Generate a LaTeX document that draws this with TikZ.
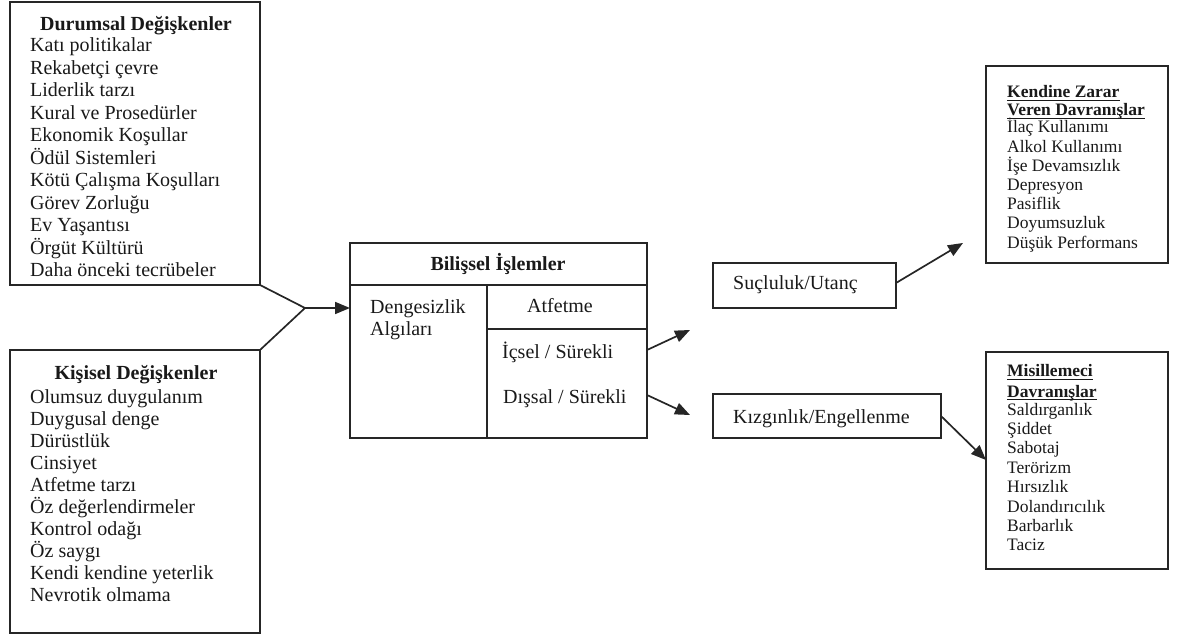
\documentclass[tikz,border=0pt]{standalone}
\usepackage{fontspec}
\setmainfont{Liberation Serif}
\usetikzlibrary{arrows.meta}
\begin{document}
\begin{tikzpicture}[x=1pt,y=-1pt,
  box/.style={draw=black!85, line width=1.7pt, inner sep=0pt, outer sep=0pt},
  big/.style={font=\fontsize{20}{22.5}\selectfont, inner sep=0pt, text=black!90},
  small/.style={font=\fontsize{17.5}{19}\selectfont, inner sep=0pt, text=black!90},
  smallbold/.style={font=\fontsize{17.5}{19}\selectfont\bfseries, inner sep=0pt, text=black!90},
  ul/.style={line width=1.1pt, draw=black!90},
  conn/.style={line width=1.7pt, draw=black!85},
  arr/.style={conn, -{Triangle[length=15pt,width=12pt]}}]
\useasboundingbox (0,0) rectangle (1181,636);

% left boxes
\node[box, minimum width=250pt, minimum height=283pt] (dur) at (135,143.5) {};
\node[big, font=\fontsize{20}{22.5}\selectfont\bfseries, anchor=base] (durt) at (136,31) {Durumsal Değişkenler};
\foreach \t [count=\i] in {Katı politikalar, Rekabetçi çevre, Liderlik tarzı, Kural ve Prosedürler, Ekonomik Koşullar, Ödül Sistemleri, Kötü Çalışma Koşulları, Görev Zorluğu, Ev Yaşantısı, Örgüt Kültürü, Daha önceki tecrübeler}
  \node[big, anchor=base west] (d\i) at (30,{52+(\i-1)*22.5}) {\t};

\node[box, minimum width=250pt, minimum height=283pt] (kis) at (135,491.5) {};
\node[big, font=\fontsize{20}{22.5}\selectfont\bfseries, anchor=base] (kist) at (136,379) {Kişisel Değişkenler};
\foreach \t [count=\i] in {Olumsuz duygulanım, Duygusal denge, Dürüstlük, Cinsiyet, Atfetme tarzı, Öz değerlendirmeler, Kontrol odağı, Öz saygı, Kendi kendine yeterlik, Nevrotik olmama}
  \node[big, anchor=base west] (k\i) at (30,{403+(\i-1)*22}) {\t};

% middle box
\node[box, minimum width=297pt, minimum height=195pt] (bil) at (498.5,340.5) {};
\coordinate (j) at (305,308);
\draw[conn] (dur.south east) -- (j) -- (kis.north east);
\draw[arr] (j) -- (bil.west |- j);
\coordinate (hl) at (350,285);
\coordinate (hr) at (647,285);
\coordinate (vt) at (487,285);
\coordinate (vb) at (487,438);
\coordinate (al) at (487,329);
\coordinate (ar) at (647,329);
\draw[conn] (hl) -- (hr);
\draw[conn] (vt) -- (vb);
\draw[conn] (al) -- (ar);
\node[big, font=\fontsize{20}{22.5}\selectfont\bfseries, anchor=base] (bilt) at (498,271) {Bilişsel İşlemler};
\node[big, anchor=base west] (deng) at (370,314) {Dengesizlik};
\node[big, anchor=base west] (algi) at (370,336) {Algıları};
\node[big, anchor=base] (atf) at (560,313) {Atfetme};
\node[big, anchor=base west] (icsel) at (502,359) {İçsel / Sürekli};
\node[big, anchor=base west] (dissal) at (503,403) {Dışsal / Sürekli};

% emotion boxes
\node[box, minimum width=183pt, minimum height=45pt] (suc) at (804.5,285.5) {};
\node[big, anchor=base west] (suct) at (733,290) {Suçluluk/Utanç};
\node[box, minimum width=228pt, minimum height=44pt] (kiz) at (827,416) {};
\node[big, anchor=base west] (kizt) at (733,423) {Kızgınlık/Engellenme};

\coordinate (a1s) at (647,350);
\coordinate (a1e) at (690,330);
\coordinate (a2s) at (647,395);
\coordinate (a2e) at (690,415);
\draw[arr] (a1s) -- (a1e);
\draw[arr] (a2s) -- (a2e);

% right boxes
\node[box, minimum width=182pt, minimum height=197pt] (zar) at (1077,164.5) {};
\node[box, minimum width=182pt, minimum height=217pt] (mis) at (1077,460.5) {};

\coordinate (a3s) at (896,283);
\coordinate (a3e) at (963,243);
\draw[arr] (a3s) -- (a3e);
\draw[arr] (kiz.east) -- (mis.west |- 0,460);

\node[smallbold, anchor=base west] (z1) at (1007,98) {Kendine Zarar};
\node[smallbold, anchor=base west] (z2) at (1007,116) {Veren Davranışlar};
\draw[ul] ([yshift=-2.5pt]z1.base west) -- ([yshift=-2.5pt]z1.base east);
\draw[ul] ([yshift=-2.5pt]z2.base west) -- ([yshift=-2.5pt]z2.base east);
\foreach \t [count=\i] in {İlaç Kullanımı, Alkol Kullanımı, İşe Devamsızlık, Depresyon, Pasiflik, Doyumsuzluk, Düşük Performans}
  \node[small, anchor=base west] (z\i l) at (1007,{133+(\i-1)*19.2}) {\t};

\node[smallbold, anchor=base west] (m1) at (1007,377) {Misillemeci};
\node[smallbold, anchor=base west] (m2) at (1007,397) {Davranışlar};
\draw[ul] ([yshift=-2.5pt]m1.base west) -- ([yshift=-2.5pt]m1.base east);
\draw[ul] ([yshift=-2.5pt]m2.base west) -- ([yshift=-2.5pt]m2.base east);
\foreach \t [count=\i] in {Saldırganlık, Şiddet, Sabotaj, Terörizm, Hırsızlık, Dolandırıcılık, Barbarlık, Taciz}
  \node[small, anchor=base west] (m\i l) at (1007,{415+(\i-1)*19.4}) {\t};
\end{tikzpicture}
\end{document}
